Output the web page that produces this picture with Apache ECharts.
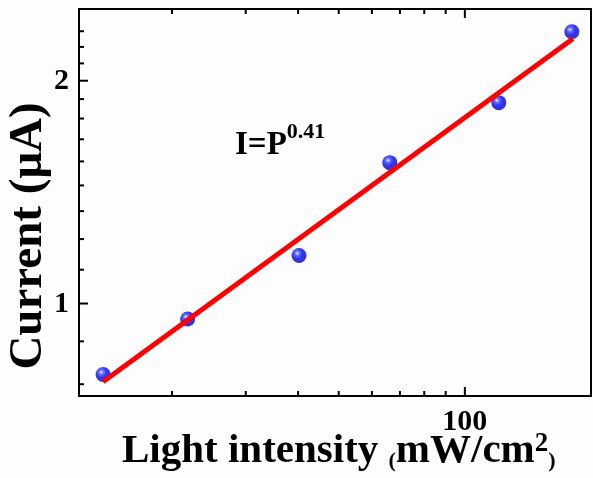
<!DOCTYPE html>
<html>
<head>
<meta charset="utf-8">
<script src="https://cdn.jsdelivr.net/npm/echarts@6/dist/echarts.min.js"></script>
<style>
  html, body { margin: 0; padding: 0; background: #fdfdfd; }
  #main { width: 593px; height: 478px; }
</style>
</head>
<body>
<div id="main"></div>
<script>
// measured points (light intensity vs current), log-log
const lightP = [13.7, 21.8, 40.2, 66.2, 120.5, 180];
const currentI = [0.802, 0.953, 1.161, 1.55, 1.868, 2.329];
// fitted line I = P^0.41, two end points
const fitP = [13.7, 181];
const fitI = [0.784, 2.279];

// axis ranges and ticks
const xRange = [12, 200];
const yRange = [0.75, 2.5];
const xMajorTicks = [100];
const xMinorTicks = [20, 30, 40, 50, 60, 70, 80, 90];
const yMajorTicks = [1, 2];
const yMinorTicks = [0.778, 0.889, 1.111, 1.222, 1.333, 1.444, 1.556, 1.667, 1.778, 1.889, 2.111, 2.222, 2.333];
const xTickLabels = ['100'];
const yTickLabels = ['1', '2'];

const FONT = '"Liberation Serif", "Times New Roman", serif';

// tick data: [x, y, kind]  kind 0 x-major, 1 x-minor, 2 y-major, 3 y-minor
var tickData = [];
xMajorTicks.forEach(v => tickData.push([v, yRange[0], 0]));
xMinorTicks.forEach(v => tickData.push([v, yRange[0], 1]));
yMajorTicks.forEach(v => tickData.push([xRange[0], v, 2]));
yMinorTicks.forEach(v => tickData.push([xRange[0], v, 3]));

var labelData = [];
xMajorTicks.forEach((v, i) => labelData.push([v, yRange[0], 0, xTickLabels[i]]));
yMajorTicks.forEach((v, i) => labelData.push([xRange[0], v, 2, yTickLabels[i]]));

var chart = echarts.init(document.getElementById('main'));

var option = {
  backgroundColor: '#fdfdfd',
  animation: false,
  grid: {
    left: 79, top: 9, right: 2, bottom: 82,
    show: true,
    borderColor: '#000',
    borderWidth: 2,
    backgroundColor: 'transparent'
  },
  xAxis: {
    type: 'log',
    logBase: 10,
    min: xRange[0],
    max: xRange[1],
    axisLine: { show: false },
    axisTick: { show: false },
    axisLabel: { show: false },
    splitLine: { show: false }
  },
  yAxis: {
    type: 'log',
    logBase: 10,
    min: yRange[0],
    max: yRange[1],
    axisLine: { show: false },
    axisTick: { show: false },
    axisLabel: { show: false },
    splitLine: { show: false }
  },
  series: [
    {
      name: 'ticks',
      type: 'custom',
      silent: true,
      z: 4,
      data: tickData,
      renderItem: function (params, api) {
        var kind = api.value(2);
        var p = api.coord([api.value(0), api.value(1)]);
        var style = { stroke: '#000', lineWidth: 2 };
        if (kind === 0 || kind === 1) {
          var len = kind === 0 ? 9 : 5;
          var top = api.coord([api.value(0), yRange[1]]);
          return {
            type: 'group',
            children: [
              { type: 'line', shape: { x1: p[0], y1: p[1], x2: p[0], y2: p[1] - len }, style: style },
              { type: 'line', shape: { x1: top[0], y1: top[1], x2: top[0], y2: top[1] + len }, style: style }
            ]
          };
        }
        var lenY = kind === 2 ? 9 : 5;
        return {
          type: 'line',
          shape: { x1: p[0], y1: p[1], x2: p[0] + lenY, y2: p[1] },
          style: style
        };
      }
    },
    {
      name: 'tickLabels',
      type: 'custom',
      silent: true,
      z: 4,
      data: labelData,
      renderItem: function (params, api) {
        var kind = api.value(2);
        var p = api.coord([api.value(0), api.value(1)]);
        var txt = labelData[params.dataIndex][3];
        if (kind === 0) {
          return {
            type: 'text',
            x: p[0], y: p[1] + 11,
            style: { text: txt, font: 'bold 30px ' + FONT, fill: '#000', align: 'center', verticalAlign: 'top' }
          };
        }
        return {
          type: 'text',
          x: p[0] - 10, y: p[1] + 1,
          style: { text: txt, font: 'bold 30px ' + FONT, fill: '#000', align: 'right', verticalAlign: 'middle' }
        };
      }
    },
    {
      name: 'data',
      type: 'scatter',
      z: 2,
      symbol: 'circle',
      symbolSize: 15,
      itemStyle: {
        color: new echarts.graphic.RadialGradient(0.38, 0.35, 0.65, [
          { offset: 0, color: '#f4f6ff' },
          { offset: 0.22, color: '#4050ff' },
          { offset: 0.55, color: '#0000f4' },
          { offset: 1, color: '#0000b8' }
        ])
      },
      data: lightP.map((v, i) => [v, currentI[i]])
    },
    {
      name: 'fit',
      type: 'line',
      z: 3,
      symbol: 'none',
      lineStyle: { color: '#ff0000', width: 5 },
      data: fitP.map((v, i) => [v, fitI[i]])
    }
  ],
  graphic: [
    {
      type: 'text',
      x: 29, y: 236,
      rotation: Math.PI / 2,
      style: {
        text: 'Current (μA)',
        font: 'bold 47px ' + FONT,
        fill: '#000',
        align: 'center',
        verticalAlign: 'middle'
      }
    },
    {
      type: 'text',
      left: 122, top: 431,
      style: {
        text: '{a|Light intensity }{p|(}{a|mW/cm}{s|2}{p|)}',
        fill: '#000',
        rich: {
          a: { font: 'bold 41px ' + FONT, fill: '#000' },
          p: { font: 'bold 22px ' + FONT, fill: '#000', verticalAlign: 'bottom' },
          s: { font: 'bold 27px ' + FONT, fill: '#000', verticalAlign: 'top' }
        }
      }
    },
    {
      type: 'text',
      left: 235, top: 121,
      style: {
        text: '{b|I=P}{s|0.41}',
        fill: '#000',
        rich: {
          b: { font: 'bold 33px ' + FONT, fill: '#000', lineHeight: 48 },
          s: { font: 'bold 22px ' + FONT, fill: '#000', lineHeight: 22, verticalAlign: 'top' }
        }
      }
    }
  ]
};

chart.setOption(option);
</script>
</body>
</html>
